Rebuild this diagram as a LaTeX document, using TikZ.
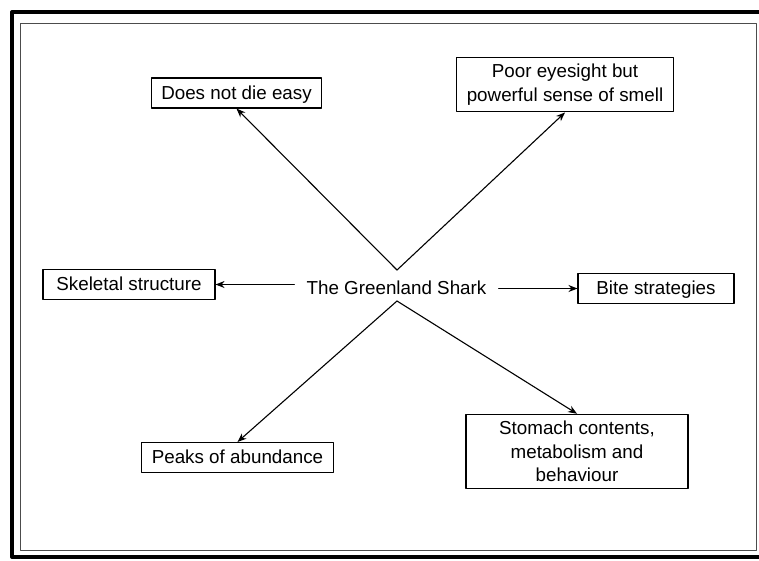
\documentclass[tikz,border=0pt]{standalone}
\usepackage{fontspec}
\setmainfont{Liberation Sans}
\usetikzlibrary{arrows.meta}

\begin{document}
\begin{tikzpicture}[line cap=round,line join=round,>={Stealth[length=9pt,width=7pt]},x=1pt,y=-1pt,
		box/.style={draw,line width=1.1pt,inner xsep=10pt,inner ysep=6pt,text height=15pt,text depth=3pt},
		mbox/.style={draw,line width=1.1pt,align=center,inner xsep=10pt,inner ysep=7pt},
		arr/.style={->,line width=1.1pt}]
		\useasboundingbox (0,0) rectangle (759,560);
		\fontsize{18.8}{23.3}\selectfont
		% frame
		\draw [line width=4pt] (800,12) -- (12,12) -- (12,557) -- (800,557);
		\draw [line width=0.6pt,color=black!70] (20,23) rectangle (756,550);
		% boxes
		\node [box] (die) at (236.5,93) {Does not die easy};
		\node [mbox] (smell) at (565,84.5) {Poor eyesight but\\powerful sense of smell};
		\node [box,minimum width=172pt] (skel) at (129,284.5) {Skeletal structure};
		\node [box,minimum width=156pt] (bite) at (656,288.5) {Bite strategies};
		\node [box] (peaks) at (237.5,457.5) {Peaks of abundance};
		\node [mbox,minimum width=222pt] (stomach) at (577,451.5) {Stomach contents,\\metabolism and\\behaviour};
		\node [inner xsep=12pt] (shark) at (396.5,288) {The Greenland Shark};
		\coordinate (up) at (397,270);
		\coordinate (dn) at (397,301);
		% arrows
		\draw [arr] (up) -- (die.south);
		\draw [arr] (up) -- (smell.south);
		\draw [arr] (dn) -- (peaks.north);
		\draw [arr] (dn) -- (stomach.north);
		\draw [arr] (shark.west |- skel.east) -- (skel.east);
		\draw [arr] (shark.east |- bite.west) -- (bite.west);
	\end{tikzpicture}
\end{document}
